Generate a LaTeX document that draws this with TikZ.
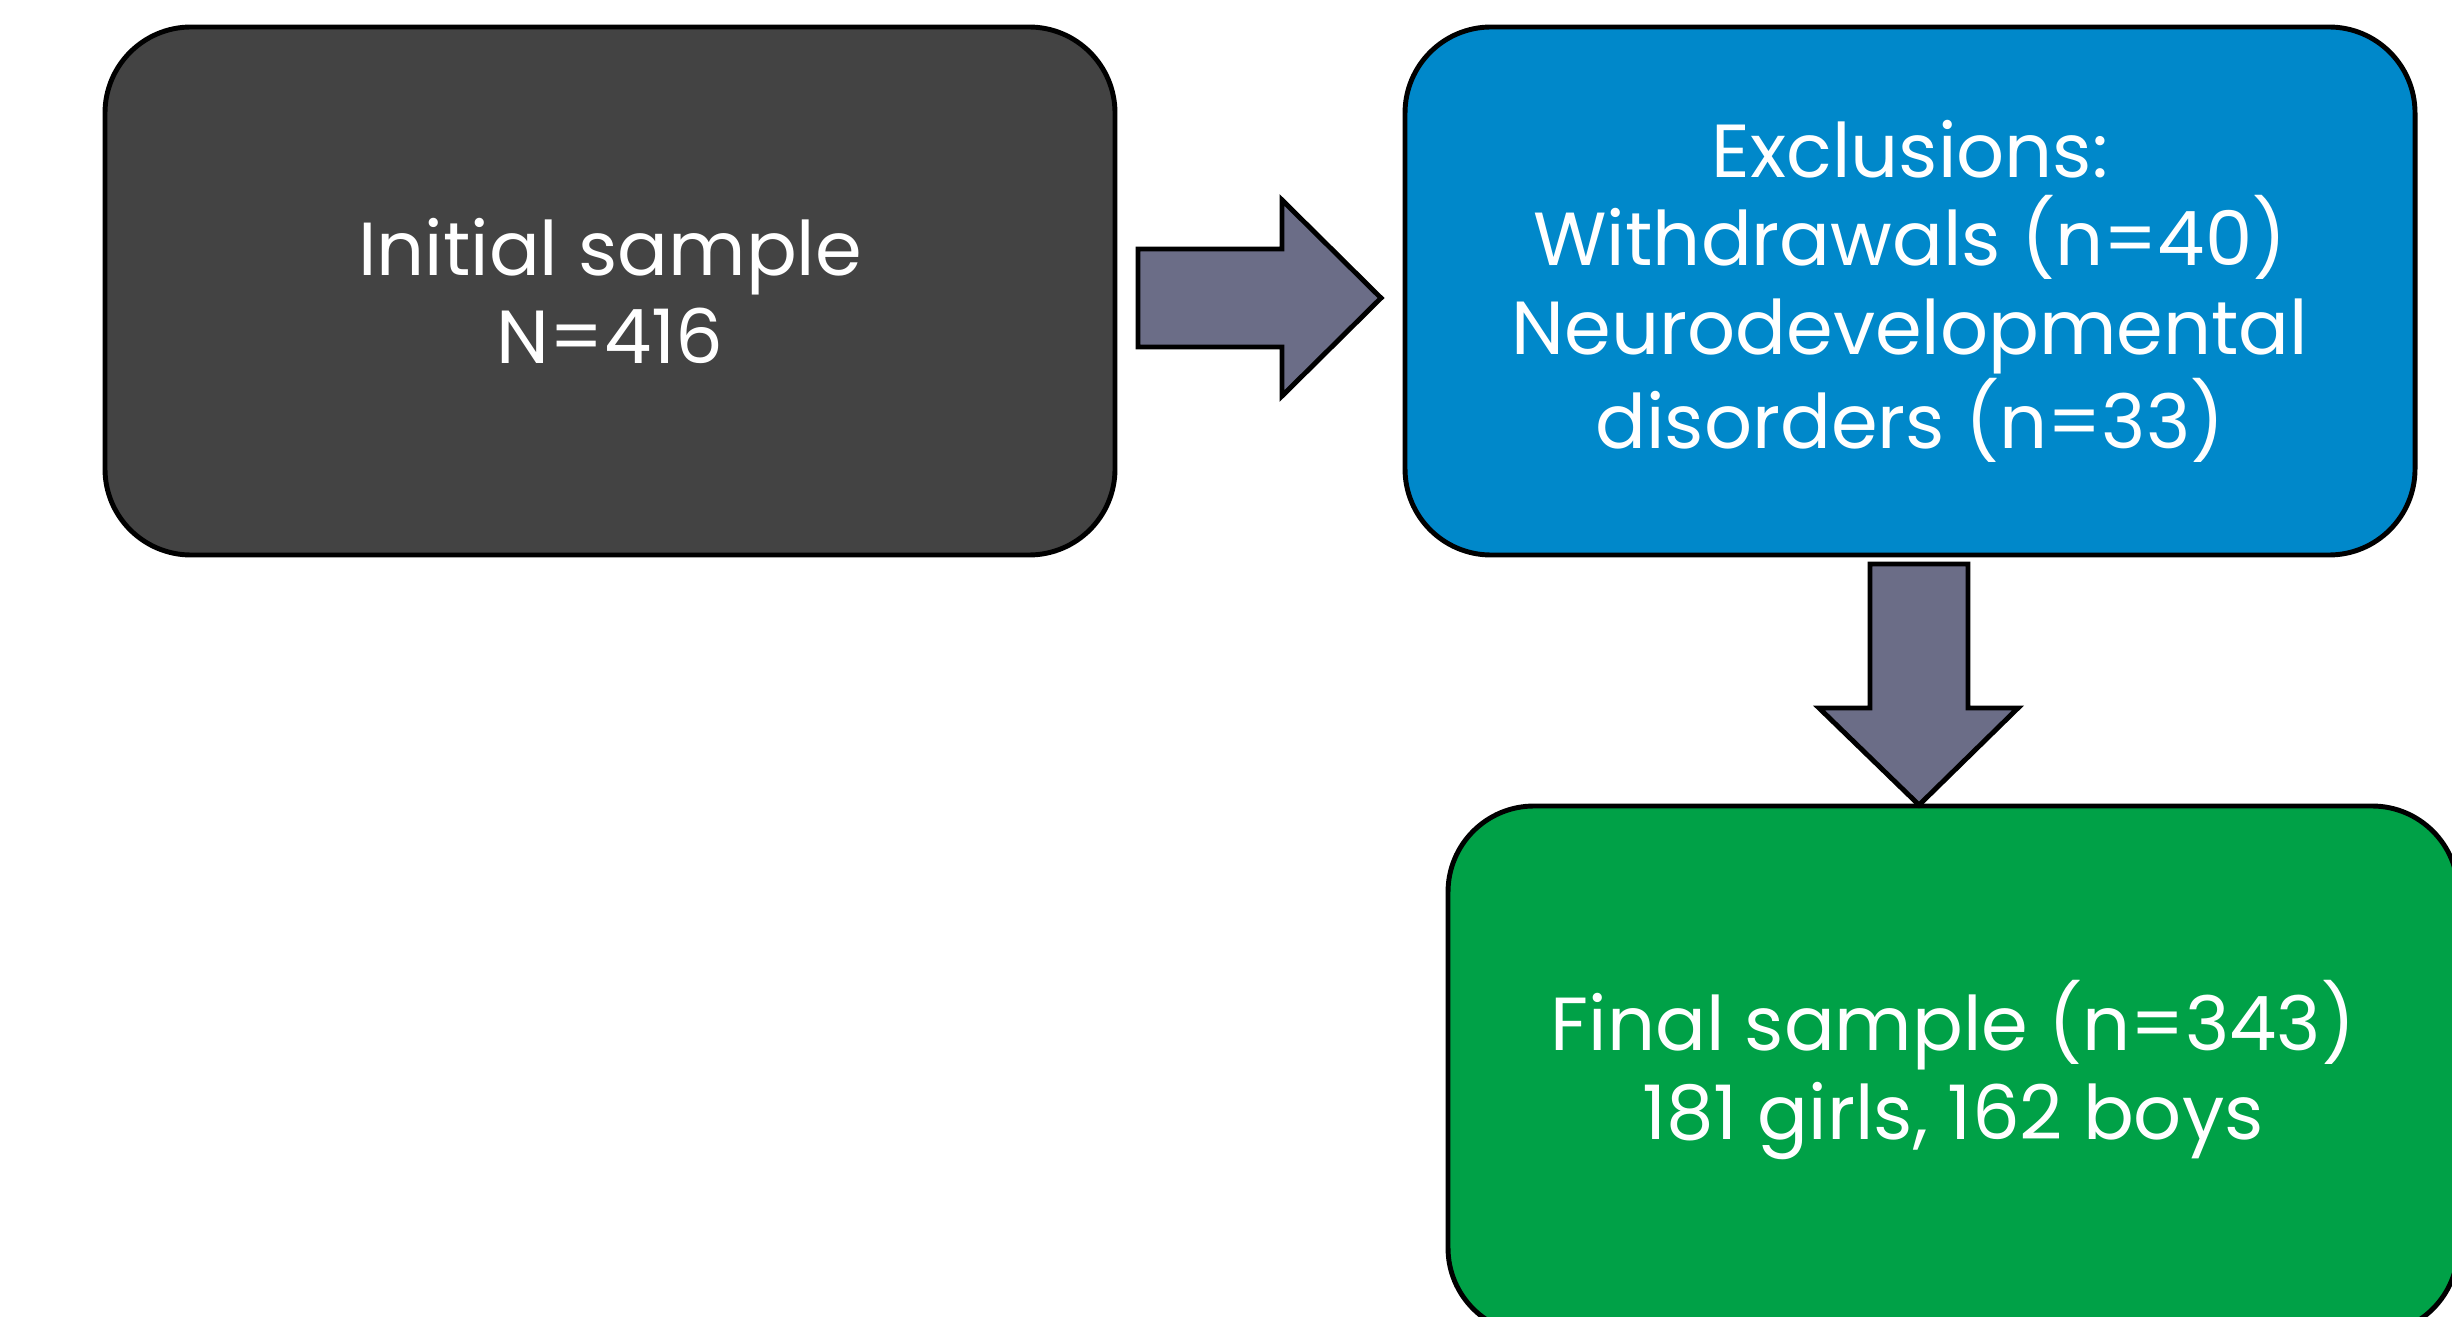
\documentclass[tikz,border=0pt]{standalone}
\usepackage{fontspec}
\setmainfont{Poppins}
\usetikzlibrary{positioning}

\definecolor{initialgray}{RGB}{67,67,67}
\definecolor{exclblue}{RGB}{0,136,202}
\definecolor{finalgreen}{RGB}{0,161,71}
\definecolor{arrowslate}{RGB}{107,109,135}

\tikzset{samplebox/.style = {draw=black, line width=1.4pt,
                             rounded corners=0.86cm,
                             minimum width=10.1cm, minimum height=5.28cm,
                             text=white, align=center,
                             font=\fontsize{21.4}{25.3}\selectfont},
         blockarrow/.style = {draw=black, line width=1.4pt,
                              fill=arrowslate, line join=miter}}

\begin{document}
\begin{tikzpicture}
    \useasboundingbox (0,0) rectangle (24.52,-13.17);

    \node (initial) at (6.10,-2.91) [samplebox, fill=initialgray]
        {Initial sample\\N=416};
    \node (exclusions) at (19.10,-2.91) [samplebox, fill=exclblue]
        {Exclusions:\\Withdrawals (n=40)\\Neurodevelopmental\\disorders (n=33)};
    \node (final) at (19.53,-10.70) [samplebox, fill=finalgreen]
        {Final sample (n=343)\\181 girls, 162 boys};

    % block arrows between the boxes
    \draw[blockarrow] (11.38,-2.49) -- (12.82,-2.49) -- (12.82,-2.00)
        -- (13.81,-2.98) -- (12.82,-3.96) -- (12.82,-3.47)
        -- (11.38,-3.47) -- cycle;
    \draw[blockarrow] (18.70,-5.64) -- (19.68,-5.64) -- (19.68,-7.08)
        -- (20.18,-7.08) -- (19.19,-8.05) -- (18.19,-7.08)
        -- (18.70,-7.08) -- cycle;
\end{tikzpicture}
\end{document}
